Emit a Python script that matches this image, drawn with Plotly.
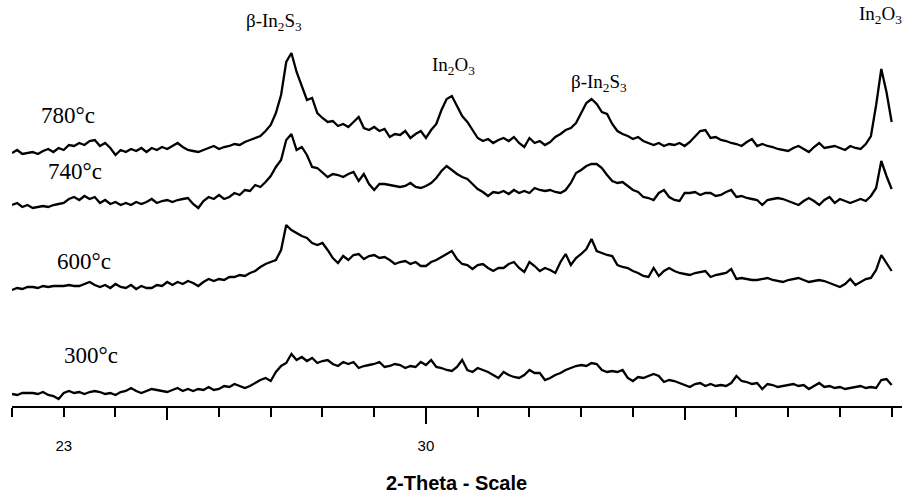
import numpy as np
import plotly.graph_objects as go

# 2-theta grid (degrees), 0.1 deg step
two_theta = np.round(np.arange(22.0, 39.0001, 0.1), 2)

# Stacked XRD intensities (arbitrary units, already offset per annealing temperature)
i_780 = [
    253, 256, 252, 253, 254, 252, 255, 257, 254, 258,
    256, 261, 260, 263, 261, 265, 266, 260, 263, 258,
    251, 256, 254, 257, 255, 258, 254, 258, 256, 259,
    257, 260, 263, 259, 256, 255, 254, 256, 258, 260,
    257, 259, 260, 262, 261, 264, 266, 268, 270, 275,
    281, 293, 311, 344, 353, 334, 321, 306, 308, 293,
    288, 284, 285, 280, 282, 279, 284, 289, 278, 276,
    279, 275, 277, 269, 272, 271, 275, 268, 272, 275,
    268, 276, 282, 296, 307, 310, 300, 290, 284, 276,
    268, 265, 267, 263, 266, 268, 265, 269, 263, 259,
    268, 263, 265, 261, 264, 269, 272, 276, 278, 283,
    293, 303, 307, 302, 294, 292, 282, 275, 272, 270,
    267, 269, 265, 263, 261, 263, 260, 262, 261, 263,
    260, 264, 270, 275, 276, 268, 269, 266, 265, 263,
    262, 260, 264, 267, 260, 262, 260, 259, 257, 256,
    255, 258, 260, 257, 254, 259, 263, 258, 259, 260,
    258, 256, 260, 258, 257, 262, 270, 301, 337, 314,
    284,
]
i_740 = [
    201, 203, 199, 201, 198, 199, 200, 199, 201, 202,
    203, 207, 209, 206, 210, 207, 209, 203, 206, 202,
    204, 201, 203, 201, 204, 202, 204, 207, 203, 205,
    206, 204, 206, 207, 208, 202, 198, 205, 209, 207,
    211, 207, 209, 213, 211, 216, 215, 221, 219, 224,
    230, 239, 246, 266, 272, 256, 259, 251, 239, 238,
    233, 229, 232, 231, 229, 232, 234, 225, 232, 222,
    216, 222, 222, 221, 220, 219, 220, 223, 219, 218,
    220, 223, 228, 235, 240, 236, 232, 229, 227, 222,
    217, 214, 210, 214, 213, 215, 212, 216, 213, 215,
    213, 218, 216, 215, 216, 214, 213, 216, 223, 233,
    236, 240, 242, 242, 238, 231, 225, 223, 224, 220,
    216, 214, 209, 208, 206, 213, 216, 209, 206, 205,
    213, 213, 214, 211, 213, 213, 210, 211, 214, 216,
    209, 210, 208, 207, 206, 201, 206, 207, 208, 207,
    205, 203, 201, 205, 208, 205, 201, 206, 209, 203,
    207, 205, 203, 205, 207, 205, 210, 218, 245, 230,
    217,
]
i_600 = [
    116, 118, 117, 119, 119, 118, 120, 119, 120, 120,
    120, 121, 120, 120, 122, 124, 121, 119, 121, 118,
    122, 119, 118, 121, 117, 120, 118, 118, 121, 120,
    124, 121, 124, 122, 125, 123, 120, 124, 127, 125,
    127, 126, 129, 129, 131, 130, 133, 135, 139, 142,
    144, 146, 156, 181, 176, 173, 170, 168, 163, 161,
    163, 156, 148, 143, 150, 146, 151, 152, 147, 150,
    151, 148, 149, 146, 142, 144, 145, 142, 144, 140,
    140, 144, 146, 149, 152, 155, 147, 142, 141, 137,
    141, 142, 138, 135, 138, 138, 142, 144, 138, 134,
    144, 140, 135, 138, 136, 133, 144, 152, 141, 148,
    152, 157, 167, 155, 153, 151, 150, 141, 139, 138,
    135, 133, 130, 129, 138, 130, 135, 138, 135, 133,
    132, 131, 133, 134, 135, 129, 131, 132, 133, 137,
    127, 128, 127, 126, 126, 127, 128, 126, 125, 124,
    126, 127, 128, 126, 124, 125, 126, 125, 123, 121,
    119, 122, 127, 121, 124, 127, 128, 136, 151, 143,
    135,
]
i_300 = [
    12, 11, 13, 13, 13, 12, 14, 11, 10, 7,
    13, 15, 13, 14, 12, 14, 15, 14, 12, 13,
    11, 14, 15, 18, 15, 13, 15, 17, 16, 15,
    14, 16, 18, 15, 17, 15, 17, 16, 19, 16,
    17, 20, 19, 22, 20, 18, 20, 23, 26, 28,
    25, 34, 40, 43, 52, 46, 49, 45, 48, 43,
    45, 46, 42, 40, 44, 42, 44, 38, 40, 41,
    42, 44, 39, 40, 42, 41, 38, 40, 39, 44,
    41, 46, 39, 38, 36, 35, 39, 46, 36, 34,
    38, 36, 34, 31, 28, 34, 31, 29, 28, 31,
    36, 33, 33, 26, 28, 31, 33, 36, 38, 40,
    41, 40, 43, 42, 36, 34, 35, 34, 36, 28,
    25, 29, 28, 30, 32, 30, 24, 26, 25, 23,
    21, 19, 22, 23, 20, 22, 20, 21, 20, 23,
    30, 25, 24, 22, 23, 17, 22, 21, 19, 20,
    21, 22, 20, 21, 17, 20, 23, 19, 20, 18,
    19, 17, 18, 19, 20, 18, 19, 18, 26, 27,
    21,
]

temperatures = ["780°c", "740°c", "600°c", "300°c"]
series = [i_780, i_740, i_600, i_300]

# Tick marks: every degree, longer at 25/35 and longest at 30
minor_ticks = list(range(22, 40))
tick_labels = {23: "23", 30: "30"}
mid_ticks = [25, 35]
long_ticks = [30]

# Phase labels above the reflections: (text, 2theta, height)
peak_labels = [
    ("β-In<sub>2</sub>S<sub>3</sub>", 27.06, 384),
    ("In<sub>2</sub>O<sub>3</sub>", 30.54, 340),
    ("β-In<sub>2</sub>S<sub>3</sub>", 33.35, 323),
    ("In<sub>2</sub>O<sub>3</sub>", 38.78, 391),
]
# Temperature labels: (2theta, height)
temp_label_pos = [(23.08, 291), (23.22, 235), (23.39, 145), (23.53, 51)]

fig = go.Figure()
for name, vals in zip(temperatures, series):
    fig.add_trace(go.Scatter(
        x=two_theta, y=vals, mode="lines", name=name,
        line=dict(color="black", width=2.3), showlegend=False,
        hoverinfo="skip",
    ))

# Empty traces so the overlaid tick axes get their own subplots
for ax in ("x2", "x3"):
    fig.add_trace(go.Scatter(x=[], y=[], xaxis=ax, yaxis="y",
                             showlegend=False, hoverinfo="skip"))

x_range = [22, 39.2]
serif = "Liberation Serif, Times New Roman, serif"
sans = "Liberation Sans, Arial, sans-serif"

annotations = []
for text, xv, yv in peak_labels:
    annotations.append(dict(
        x=xv, y=yv, xref="x", yref="y", text=text, showarrow=False,
        xanchor="center", yanchor="middle",
        font=dict(family=serif, size=19, color="black"),
    ))
for text, (xv, yv) in zip(temperatures, temp_label_pos):
    annotations.append(dict(
        x=xv, y=yv, xref="x", yref="y", text=text, showarrow=False,
        xanchor="center", yanchor="middle",
        font=dict(family=serif, size=23, color="black"),
    ))
annotations.append(dict(
    x=0.499, y=-0.19, xref="paper", yref="paper",
    text="<b>2-Theta - Scale</b>", showarrow=False,
    xanchor="center", yanchor="middle",
    font=dict(family=sans, size=20, color="black"),
))

common_axis = dict(range=x_range, showgrid=False, zeroline=False,
                   ticks="outside", tickcolor="black", tickwidth=1.5)

fig.update_layout(
    width=904, height=495,
    margin=dict(l=12, r=2, t=0, b=89),
    paper_bgcolor="white", plot_bgcolor="white",
    xaxis=dict(
        **common_axis,
        tickmode="array", tickvals=minor_ticks,
        ticktext=[tick_labels.get(v, "") for v in minor_ticks],
        ticklen=9, showline=True, linecolor="black", linewidth=1.5,
        tickfont=dict(family=sans, size=15, color="black"),
        ticklabelstandoff=16,
    ),
    xaxis2=dict(
        **common_axis, overlaying="x", anchor="y", side="bottom",
        tickmode="array", tickvals=mid_ticks, ticklen=13,
        showticklabels=False, showline=False,
    ),
    xaxis3=dict(
        **common_axis, overlaying="x", anchor="y", side="bottom",
        tickmode="array", tickvals=long_ticks, ticklen=17,
        showticklabels=False, showline=False,
    ),
    yaxis=dict(range=[0, 406], visible=False, fixedrange=True),
    annotations=annotations,
)

fig.write_html("out.html")
